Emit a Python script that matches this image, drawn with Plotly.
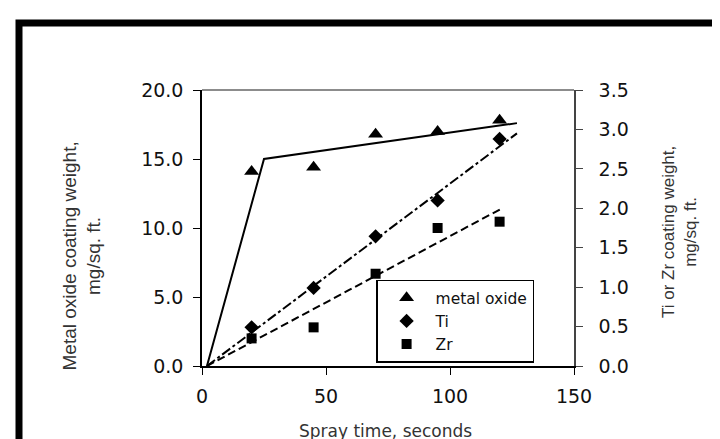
import plotly.graph_objects as go

# ---- data ----
spray_time = [20, 45, 70, 95, 120]
metal_oxide = [14.1, 14.4, 16.8, 17.0, 17.8]      # left axis, mg/sq. ft.
ti = [0.49, 0.99, 1.645, 2.10, 2.88]              # right axis, mg/sq. ft.
zr = [0.35, 0.49, 1.17, 1.75, 1.83]               # right axis, mg/sq. ft.

# fitted lines as drawn in the figure
mo_fit_x = [2, 25, 127]
mo_fit_y = [0, 15.0, 17.6]
ti_fit_x = [2, 127]
ti_fit_y = [0, 2.95]
zr_fit_x = [2, 121]
zr_fit_y = [0, 2.0]

x_ticks = [0, 50, 100, 150]
y_ticks = [0, 5, 10, 15, 20]
y2_ticks = [0, 0.5, 1.0, 1.5, 2.0, 2.5, 3.0, 3.5]

TICKFONT = dict(family="DejaVu Sans", size=19, color="#111")

fig = go.Figure()

fig.add_trace(go.Scatter(x=mo_fit_x, y=mo_fit_y, mode="lines",
                         line=dict(color="black", width=2), showlegend=False))
fig.add_trace(go.Scatter(x=ti_fit_x, y=ti_fit_y, mode="lines", yaxis="y2",
                         line=dict(color="black", width=2, dash="10px,3px,3px,3px"),
                         showlegend=False))
fig.add_trace(go.Scatter(x=zr_fit_x, y=zr_fit_y, mode="lines", yaxis="y2",
                         line=dict(color="black", width=2, dash="8px,4px"),
                         showlegend=False))

fig.add_trace(go.Scatter(x=spray_time, y=metal_oxide, mode="markers", name="metal oxide",
                         marker=dict(symbol="triangle-up", size=13, color="black")))
fig.add_trace(go.Scatter(x=spray_time, y=ti, mode="markers", name="Ti", yaxis="y2",
                         marker=dict(symbol="diamond", size=11, color="black")))
fig.add_trace(go.Scatter(x=spray_time, y=zr, mode="markers", name="Zr", yaxis="y2",
                         marker=dict(symbol="square", size=10, color="black")))

fig.update_layout(
    width=720, height=439,
    margin=dict(l=194, r=154, t=82, b=81),
    paper_bgcolor="white", plot_bgcolor="white",
    xaxis=dict(range=[0, 150], tickvals=x_ticks, showgrid=False, zeroline=False,
               showline=True, linecolor="black", linewidth=1.5,
               ticks="outside", ticklen=7, tickcolor="black", tickwidth=1.2,
               tickfont=TICKFONT, ticklabelstandoff=5),
    yaxis=dict(range=[0, 20], tickvals=y_ticks, tickformat=".1f", showgrid=False,
               zeroline=False, showline=True, linecolor="black", linewidth=1.5,
               ticks="outside", ticklen=7, tickcolor="black", tickwidth=1.2,
               tickfont=TICKFONT, ticklabelstandoff=6),
    yaxis2=dict(range=[0, 3.5], tickvals=y2_ticks, tickformat=".1f", overlaying="y",
                side="right", showgrid=False, zeroline=False, showline=True,
                linecolor="#444", linewidth=1.5, ticks="outside", ticklen=7,
                tickcolor="#444", tickwidth=1.2, tickfont=TICKFONT, ticklabelstandoff=12),
    legend=dict(x=0.468, y=0.012, xanchor="left", yanchor="bottom",
                bgcolor="white", bordercolor="black", borderwidth=1.5,
                font=dict(family="DejaVu Sans", size=15.5, color="#111"),
                itemwidth=48, tracegroupgap=0),
    showlegend=True,
)

# top border of plot area (gray) and outer picture frame
fig.add_shape(type="line", xref="paper", yref="paper", x0=0, x1=1, y0=1, y1=1,
              line=dict(color="#666", width=1.5))
fig.add_shape(type="rect", xref="paper", yref="paper",
              x0=(11 - 194) / 372, x1=(760 - 194) / 372,
              y0=(358 - 15) / 276, y1=(358 - 480) / 276,
              line=dict(color="black", width=7))

fig.add_annotation(text="Metal oxide coating weight,<br>mg/sq. ft.", textangle=-90,
                   xref="paper", yref="paper", x=(73.5 - 194) / 372, y=(358 - 248) / 276,
                   xanchor="center", yanchor="middle", showarrow=False,
                   font=dict(family="Liberation Sans", size=19, color="#333"))
fig.add_annotation(text="Ti or Zr coating weight,<br>mg/sq. ft.", textangle=-90,
                   xref="paper", yref="paper", x=(671 - 194) / 372, y=(358 - 224) / 276,
                   xanchor="center", yanchor="middle", showarrow=False,
                   font=dict(family="Liberation Sans", size=17, color="#333"))
fig.add_annotation(text="Spray time, seconds",
                   xref="paper", yref="paper", x=(377 - 194) / 372, y=(358 - 423) / 276,
                   xanchor="center", yanchor="middle", showarrow=False,
                   font=dict(family="DejaVu Sans", size=17, color="#333"))

fig.write_html("out.html")
